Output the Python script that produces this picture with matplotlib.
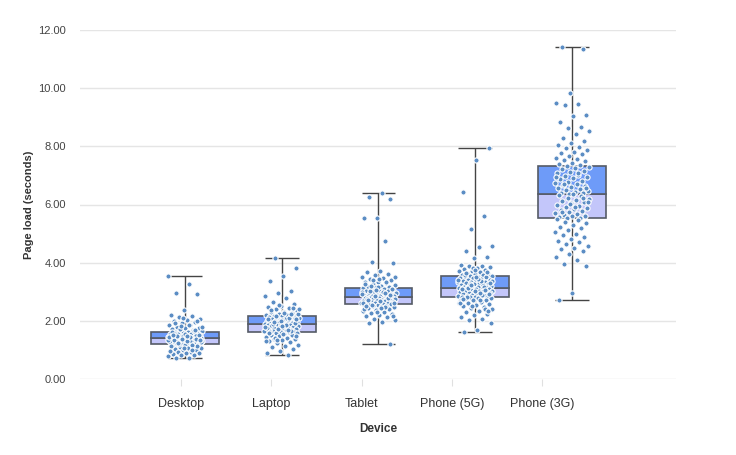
import numpy as np
import matplotlib.pyplot as plt

plt.rcParams['font.family'] = ['Liberation Sans', 'DejaVu Sans']

devices = ['Desktop', 'Laptop', 'Tablet', 'Phone (5G)', 'Phone (3G)']

# box summaries: min, q1, median, q3, max
box_min = [0.72, 0.81, 1.22, 1.61, 2.72]
box_q1 = [1.20, 1.62, 2.57, 2.82, 5.53]
box_med = [1.40, 1.88, 2.81, 3.13, 6.37]
box_q3 = [1.60, 2.16, 3.14, 3.53, 7.32]
box_max = [3.53, 4.15, 6.40, 7.95, 11.42]

desktop = [3.53, 3.27, 2.97, 2.92, 2.37, 2.21, 2.17, 2.12, 2.06, 2.03, 1.99, 1.95,
           1.91, 1.87, 1.84, 1.80, 1.77, 1.74, 1.71, 1.69, 1.66, 1.64, 1.62, 1.61,
           1.59, 1.58, 1.56, 1.55, 1.54, 1.52, 1.51, 1.50, 1.49, 1.47, 1.46, 1.45,
           1.45, 1.44, 1.43, 1.42, 1.42, 1.41, 1.41, 1.40, 1.57, 1.53, 1.48,
           1.39, 1.38, 1.38, 1.37, 1.36, 1.35, 1.34, 1.33, 1.32, 1.31, 1.30, 1.29,
           1.28, 1.27, 1.26, 1.25, 1.24, 1.23, 1.22, 1.21, 1.20, 1.35, 1.29,
           1.19, 1.18, 1.16, 1.14, 1.12, 1.10, 1.08, 1.06, 1.03, 1.01, 0.98, 0.96,
           0.94, 0.92, 0.90, 0.88, 0.86, 0.84, 0.81, 0.78, 0.72, 0.72, 1.15,
           1.05, 1.12, 1.18, 1.22, 1.27, 1.31, 1.34, 1.37, 1.39, 1.43, 1.46, 1.49,
           1.53, 1.56, 1.60, 1.65, 1.72, 1.79, 1.86, 1.93, 2.00, 2.10, 0.95, 1.00,
           1.25, 1.33, 1.47, 1.52, 1.68, 1.83]
laptop = [4.15, 3.83, 3.54, 3.38, 3.04, 2.95, 2.87, 2.78, 2.66, 2.58, 2.52, 2.47,
          2.43, 2.39, 2.35, 2.32, 2.29, 2.26, 2.23, 2.21, 2.19, 2.18, 2.17,
          2.15, 2.14, 2.12, 2.11, 2.09, 2.07, 2.06, 2.04, 2.02, 2.01, 1.99, 1.98,
          1.96, 1.95, 1.93, 1.92, 1.91, 1.90, 1.89, 1.88, 2.10, 2.03,
          1.87, 1.86, 1.85, 1.83, 1.82, 1.81, 1.79, 1.78, 1.77, 1.75, 1.74, 1.73,
          1.71, 1.70, 1.69, 1.67, 1.66, 1.65, 1.64, 1.63, 1.62, 1.76,
          1.61, 1.59, 1.57, 1.55, 1.52, 1.50, 1.47, 1.45, 1.42, 1.39, 1.36, 1.34,
          1.31, 1.27, 1.23, 1.18, 1.12, 1.09, 1.02, 0.95, 0.90, 0.81,
          1.40, 1.48, 1.55, 1.60, 1.66, 1.72, 1.78, 1.84, 1.89, 1.94, 2.00, 2.05,
          2.11, 2.16, 2.22, 2.28, 2.36, 2.45, 2.55, 1.30, 1.70, 1.97, 2.08, 1.81,
          1.58, 2.25, 1.35, 2.40]
tablet = [6.40, 6.27, 6.19, 5.54, 5.54, 4.76, 4.04, 3.98, 3.71, 3.69, 3.62, 3.58,
          3.52, 3.47, 3.43, 3.39, 3.35, 3.32, 3.29, 3.26, 3.23, 3.20, 3.18, 3.16, 3.15,
          3.13, 3.11, 3.09, 3.07, 3.05, 3.03, 3.01, 2.99, 2.97, 2.95, 2.93, 2.92,
          2.90, 2.89, 2.87, 2.86, 2.85, 2.84, 2.83, 2.82, 2.81, 3.00, 2.94,
          2.80, 2.79, 2.78, 2.77, 2.76, 2.75, 2.74, 2.73, 2.72, 2.71, 2.70, 2.68,
          2.67, 2.66, 2.65, 2.64, 2.63, 2.62, 2.61, 2.60, 2.59, 2.58, 2.57,
          2.56, 2.54, 2.52, 2.50, 2.48, 2.46, 2.44, 2.41, 2.38, 2.35, 2.32, 2.28,
          2.24, 2.20, 2.16, 2.12, 2.07, 2.02, 1.97, 1.94, 1.22,
          2.30, 2.40, 2.49, 2.55, 2.62, 2.69, 2.75, 2.80, 2.86, 2.91, 2.98, 3.04,
          3.10, 3.17, 3.25, 3.33, 3.41, 3.50, 2.45, 2.71, 2.88, 3.06, 2.60, 2.95,
          3.21, 2.15, 3.45, 2.52]
phone_5g = [7.95, 7.53, 6.42, 5.62, 5.15, 4.57, 4.55, 4.41, 4.20, 4.15, 3.92, 3.90,
            3.87, 3.84, 3.81, 3.78, 3.75, 3.72, 3.70, 3.67, 3.65, 3.62, 3.60, 3.58,
            3.56, 3.55, 3.54,
            3.52, 3.51, 3.49, 3.47, 3.46, 3.44, 3.42, 3.41, 3.39, 3.37, 3.35, 3.34,
            3.32, 3.30, 3.29, 3.27, 3.25, 3.24, 3.22, 3.20, 3.19, 3.17, 3.16, 3.15,
            3.14, 3.13, 3.38,
            3.12, 3.11, 3.10, 3.08, 3.07, 3.06, 3.04, 3.03, 3.02, 3.00, 2.99, 2.98,
            2.96, 2.95, 2.94, 2.92, 2.91, 2.90, 2.88, 2.87, 2.86, 2.85, 2.84, 2.83,
            2.82, 3.01,
            2.81, 2.79, 2.77, 2.75, 2.72, 2.70, 2.67, 2.64, 2.61, 2.58, 2.55, 2.51,
            2.47, 2.43, 2.39, 2.35, 2.30, 2.25, 2.20, 2.14, 2.06, 2.03, 1.94, 1.69, 1.61,
            2.40, 2.52, 2.63, 2.73, 2.83, 2.93, 3.02, 3.09, 3.18, 3.26, 3.36, 3.45,
            3.57, 3.68, 3.80, 2.60, 2.89, 3.12, 3.31, 3.50, 2.76, 3.05, 3.22, 3.40,
            2.97, 3.63, 2.33, 3.74]
phone_3g = [11.42, 11.34, 9.83, 9.49, 9.46, 9.41, 9.07, 9.04, 8.82, 8.68, 8.62, 8.54,
            8.42, 8.30, 8.18, 8.10, 8.04, 7.98, 7.93, 7.88, 7.82, 7.77, 7.72, 7.66,
            7.61, 7.57, 7.52, 7.48, 7.44, 7.40, 7.36, 7.33,
            7.30, 7.25, 7.21, 7.16, 7.12, 7.07, 7.03, 6.98, 6.94, 6.90, 6.86, 6.82,
            6.78, 6.74, 6.71, 6.67, 6.63, 6.60, 6.56, 6.53, 6.50, 6.47, 6.44, 6.41,
            6.39, 6.37, 6.95, 7.10, 6.70, 6.58,
            6.35, 6.32, 6.28, 6.24, 6.20, 6.16, 6.12, 6.08, 6.04, 6.00, 5.96, 5.92,
            5.88, 5.84, 5.80, 5.77, 5.74, 5.71, 5.68, 5.65, 5.62, 5.59, 5.57, 5.55,
            5.53, 6.10, 5.90, 5.75, 6.22, 6.01,
            5.51, 5.46, 5.41, 5.36, 5.30, 5.24, 5.18, 5.12, 5.06, 5.00, 4.94, 4.88,
            4.82, 4.76, 4.70, 4.64, 4.58, 4.52, 4.46, 4.40, 4.30, 4.20, 4.10, 3.94,
            3.90, 2.95, 2.72]
samples = [desktop, laptop, tablet, phone_5g, phone_3g]

fig = plt.figure(figsize=(7.36, 4.55), dpi=100)
ax = fig.add_axes([80/736, 76/455, 596/736, 349/455])

pos = np.arange(1, 6)
w = 0.70

# whiskers + caps
ax.vlines(pos, box_min, box_max, color='#444444', lw=1, zorder=2)
ax.hlines(box_min, pos - w/4, pos + w/4, color='#444444', lw=1, zorder=2)
ax.hlines(box_max, pos - w/4, pos + w/4, color='#444444', lw=1, zorder=2)

# two-tone boxes
lo = np.array(box_med) - np.array(box_q1)
hi = np.array(box_q3) - np.array(box_med)
ax.bar(pos, lo, w, bottom=box_q1, color='#c3c6fa', edgecolor='#555b66', lw=1.2, zorder=2.5)
ax.bar(pos, hi, w, bottom=box_med, color='#6e9bf8', edgecolor='#555b66', lw=1.2, zorder=2.5)

# jittered points
for i, vals in enumerate(samples):
    vals = np.array(vals)
    k = np.arange(len(vals))
    jit = ((k * 0.618034 + 0.3 * i) % 1 - 0.5) * 0.36
    ax.scatter(pos[i] + jit, vals, s=14, color='#5b8dc4', edgecolor='white',
               linewidth=0.8, zorder=3)

ax.set_xlim(-0.085, 6.075)
ax.set_ylim(0, 12)
ax.set_yticks(np.arange(0, 13, 2))
ax.set_yticklabels(['%.2f' % v for v in np.arange(0, 13, 2)])
ax.set_xticks(pos * 0.933 + 0.026)
ax.set_xticklabels(devices)
ax.grid(axis='y', color='#e5e5e5', lw=1)
ax.set_axisbelow(True)
for s in ax.spines.values():
    s.set_visible(False)
ax.tick_params(axis='y', length=0, pad=10, labelsize=8, labelcolor='#444444')
ax.tick_params(axis='x', length=5, color='#e0e0e0', pad=9, labelsize=9, labelcolor='#333333')

ax.set_xlabel('Device', fontsize=8.5, fontweight='bold', color='#333333', labelpad=9)
ax.set_ylabel('Page load (seconds)', fontsize=8, fontweight='bold', color='#333333', labelpad=3)

fig.savefig('out.png', dpi=100)
